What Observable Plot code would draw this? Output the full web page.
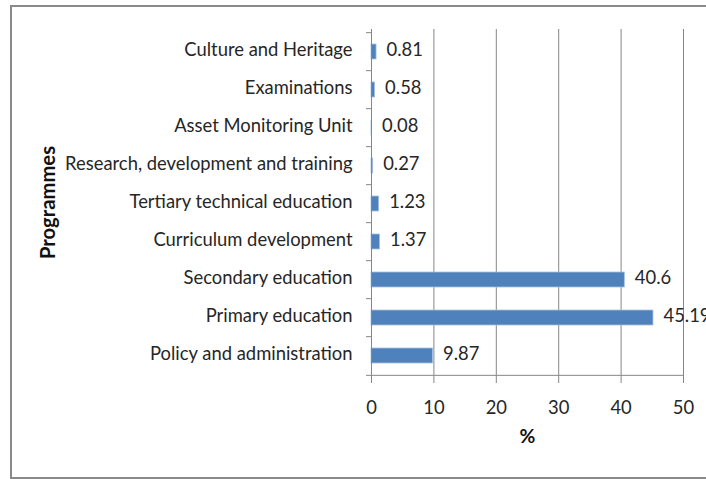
<!DOCTYPE html>
<html><head><meta charset="utf-8">
<script src="https://cdn.jsdelivr.net/npm/d3@7"></script>
<script src="https://cdn.jsdelivr.net/npm/@observablehq/plot@0.6"></script>
<style>
body{margin:0;background:#fff;}
#wrap{position:relative;width:706px;height:479px;overflow:hidden;background:#fff;}
#border{position:absolute;left:10px;top:5px;width:740px;height:474px;border:2px solid #8a8a8a;box-sizing:border-box;}
#chart{position:absolute;left:0;top:0;}
</style>
</head><body>
<div id="wrap"><div id="border"></div><div id="chart"></div></div>
<script>
const programmes = ["Policy and administration","Primary education","Secondary education","Curriculum development","Tertiary technical education","Research, development and training","Asset Monitoring Unit","Examinations","Culture and Heritage"];
const shares = [9.87,45.19,40.6,1.37,1.23,0.27,0.08,0.58,0.81];
const xTicks = [0,10,20,30,40,50];
const xTitle = "%";
const yTitle = "Programmes";

const data = programmes.map((name,i)=>({name, value: shares[i]}));
const W = 706, H = 479, mt = 29, mb = 102, ml = 371, mr = 23;
const step = (H - mt - mb) / programmes.length;
const family = "Lato, 'DejaVu Sans Condensed', sans-serif";
// size the font so the longest label matches the reference width
const ctx = document.createElement("canvas").getContext("2d");
ctx.font = "100px " + family;
const fs = Math.round(287 / ctx.measureText("Research, development and training").width * 1000) / 10;
const gray = "#868686";
const ink = "#262626";

const chart = Plot.plot({
  width: W, height: H,
  marginTop: mt, marginBottom: mb, marginLeft: ml, marginRight: mr,
  style: {fontFamily: family, fontSize: fs + "px", color: ink, background: "transparent", overflow: "visible"},
  x: {domain: [0, 50]},
  y: {domain: programmes.slice().reverse(), paddingInner: 0.61, paddingOuter: 0.305},
  marks: [
    Plot.gridX(xTicks, {stroke: gray, strokeOpacity: 1}),
    Plot.barX(data, {x: "value", y: "name", fill: "#4F81BD", stroke: "#a9c1de", strokeWidth: 0.8}),
    Plot.ruleX([0], {stroke: gray}),
    Plot.ruleY(programmes, {y: d => d, x1: -0.8, x2: 0, dy: -step/2, stroke: gray}),
    Plot.ruleY([programmes[0]], {y: d => d, x1: -0.8, x2: 50, dy: step/2, stroke: gray}),
    Plot.axisX(xTicks, {tickSize: 6, tickPadding: 17, stroke: gray, label: null, fontSize: fs}),
    Plot.axisY({tickSize: 0, tickPadding: 19, dy: -2, label: null, fontSize: fs}),
    Plot.text(data, {x: "value", y: "name", text: d => String(d.value), textAnchor: "start", dx: 10, dy: -2, fontSize: fs}),
    Plot.text([xTitle], {frameAnchor: "bottom", dy: 65, fontWeight: "bold", fontSize: fs * 1.05, fill: "#111"}),
    Plot.text([yTitle], {frameAnchor: "left", rotate: -90, textAnchor: "middle", dx: -323, dy: -1, fontWeight: "bold", fontSize: fs * 1.1, fill: "#111"})
  ]
});
document.getElementById("chart").appendChild(chart);
</script>
</body></html>
